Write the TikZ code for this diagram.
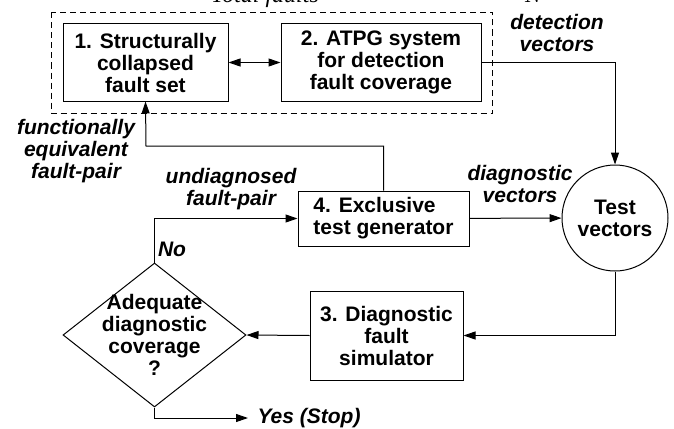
\documentclass[tikz,border=0pt]{standalone}
\usepackage{fontspec}
\setmainfont{Liberation Serif}
\setsansfont{Liberation Sans}
\usetikzlibrary{arrows.meta, calc, shapes.geometric}

\begin{document}
\begin{tikzpicture}[x=1pt, y=-1pt, line width=1pt,
                >={Triangle[length=12pt, width=8pt]}]
    \tikzstyle{every node}=[font=\fontsize{21}{22}\selectfont\sffamily\bfseries]
    \tikzstyle{block}=[draw, rectangle, align=center, inner sep=2pt]
    \tikzstyle{lbl}=[align=center, inner sep=0pt, font=\fontsize{21}{22}\selectfont\sffamily\bfseries\itshape]
    \useasboundingbox (0,0) rectangle (674,428);
    \node[block, minimum width=165pt, minimum height=77pt] (set) at (145.5,62.5) {1. Structurally\\collapsed\\fault set};
    \node[block, minimum width=200pt, minimum height=77pt] (atpg) at (381,62.5) {2. ATPG system\\for detection\\fault coverage};
    \node[block, align=left, minimum width=171pt, minimum height=55pt] (excl) at (383.5,218.5) {4. Exclusive\\test generator};
    \node[draw, circle, align=center, minimum size=106pt] (tv) at (615,218) {Test\\vectors};
    \node[block, minimum width=153pt, minimum height=89pt] (sim) at (386.5,335.5) {3. Diagnostic\\fault\\simulator};
    \node[draw, diamond, minimum width=183pt, minimum height=144pt, inner sep=0pt,
          label={[align=center]center:Adequate\\diagnostic\\coverage\\?}] (adq) at (154.5,335) {};
    \draw[dashed, line width=0.8pt, dash pattern=on 6pt off 4pt]
        ($(set.north west)+(-11,-11)$) rectangle ($(atpg.south east)+(11,12)$);
    \node[anchor=base, font=\fontsize{24}{24}\selectfont\rmfamily\itshape] (tot) at (265,3) {Total faults};
    \node[anchor=base, font=\fontsize{24}{24}\selectfont\rmfamily\itshape] (n) at (533,3) {N};
    \node[lbl] (dv) at (557,33) {detection\\vectors};
    \node[lbl] (fe) at (76,151) {functionally\\equivalent\\fault-pair};
    \node[lbl] (ud) at (231,189) {undiagnosed\\fault-pair};
    \node[lbl] (gv) at (520,184) {diagnostic\\vectors};
    \node[lbl] (no) at (172,249) {No};
    \node[lbl, anchor=west] (yes) at (257,418) {Yes (Stop)};
    \coordinate (fb) at (146,146);
    \draw[<->] (set.east) -- (atpg.west);
    \draw[->] (atpg.east) -| (tv.north);
    \draw[->] (excl.north) |- (fb) -- (set.south);
    \draw[->] (excl) -- (tv);
    \draw[->] (tv.south) |- (sim.east);
    \draw[->] (sim.west) -- (adq.east);
    \draw[->] (adq.north) |- (excl.west);
    \draw[->] (adq.south) |- ($(yes.west)+(-9,0)$);
\end{tikzpicture}
\end{document}
